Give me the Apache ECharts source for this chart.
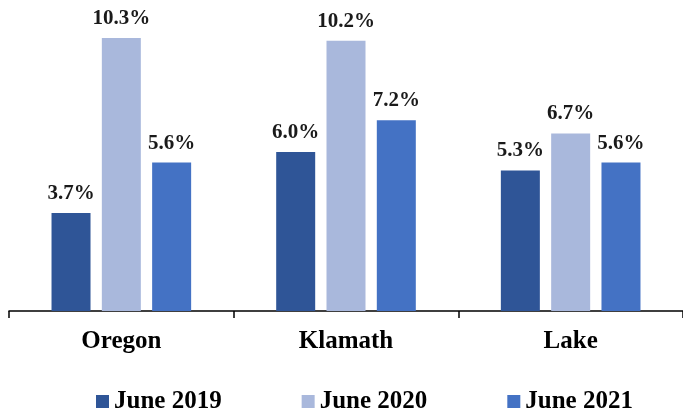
<!DOCTYPE html>
<html>
<head>
<meta charset="utf-8">
<script src="https://cdn.jsdelivr.net/npm/echarts@6/dist/echarts.min.js"></script>
<style>
  html, body { margin: 0; padding: 0; background: #fff; }
  #chart { width: 683px; height: 413px; }
</style>
</head>
<body>
<div id="chart"></div>
<script>
const categories = ['Oregon', 'Klamath', 'Lake'];
const june2019 = [3.7, 6.0, 5.3];
const june2020 = [10.3, 10.2, 6.7];
const june2021 = [5.6, 7.2, 5.6];

const font = '"Liberation Serif", "Times New Roman", serif';

function makeSeries(name, data, color) {
  return {
    name: name,
    type: 'bar',
    data: data,
    barWidth: 39,
    barGap: '29%',
    itemStyle: { color: color },
    label: {
      show: true,
      position: 'top',
      distance: 9,
      formatter: p => p.value.toFixed(1) + '%',
      fontFamily: font,
      fontWeight: 'bold',
      fontSize: 21,
      color: '#1a1a1a'
    }
  };
}

const chart = echarts.init(document.getElementById('chart'));
chart.setOption({
  animation: false,
  grid: { left: 9, right: -4, top: 19.5, bottom: 102 },
  legend: {
    left: 91,
    top: 384,
    icon: 'rect',
    itemWidth: 13,
    itemHeight: 13,
    itemGap: 80,
    textStyle: { fontFamily: font, fontWeight: 'bold', fontSize: 25, color: '#000' }
  },
  xAxis: {
    type: 'category',
    data: categories,
    axisLine: { lineStyle: { color: '#000', width: 1.5 } },
    axisTick: { show: true, length: 7, lineStyle: { color: '#000', width: 1.5 } },
    axisLabel: { margin: 18, fontFamily: font, fontWeight: 'bold', fontSize: 25, color: '#000' }
  },
  yAxis: {
    type: 'value',
    min: 0,
    max: 11,
    show: false
  },
  series: [
    makeSeries('June 2019', june2019, '#2F5597'),
    makeSeries('June 2020', june2020, '#A9B8DC'),
    makeSeries('June 2021', june2021, '#4472C4')
  ]
});
</script>
</body>
</html>
